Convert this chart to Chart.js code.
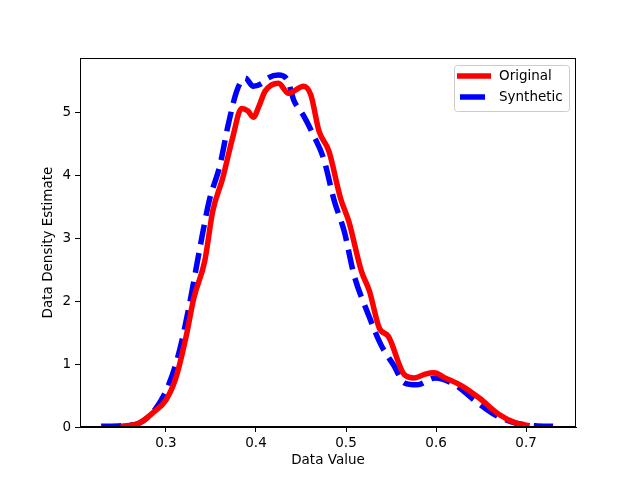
<!DOCTYPE html>
<html><head><meta charset="utf-8">
<script src="https://cdn.jsdelivr.net/npm/chart.js@4.4.0/dist/chart.umd.min.js"></script>
<style>html,body{margin:0;padding:0;background:#fff}#w{width:640px;height:480px}</style>
</head><body><div id="w"><canvas id="c" width="640" height="480"></canvas></div>
<script>
const originalX = [0.25,0.27,0.285,0.30,0.311,0.322,0.331,0.343,0.352,0.363,0.374,0.384,0.391,0.397,0.404,0.410,0.425,0.436,0.453,0.461,0.470,0.481,0.494,0.503,0.517,0.526,0.537,0.547,0.565,0.576,0.588,0.598,0.610,0.629,0.648,0.671,0.689,0.704];
const originalY = [0.01,0.06,0.22,0.43,0.78,1.41,2.05,2.63,3.43,3.95,4.59,5.06,5.02,4.92,5.12,5.33,5.46,5.30,5.41,5.27,4.70,4.38,3.63,3.27,2.48,2.16,1.57,1.44,0.83,0.78,0.84,0.86,0.78,0.65,0.46,0.19,0.06,0.02];
const syntheticX = [0.228,0.25,0.27,0.289,0.303,0.315,0.326,0.337,0.348,0.36,0.369,0.379,0.388,0.397,0.407,0.413,0.425,0.435,0.442,0.453,0.464,0.475,0.487,0.498,0.509,0.525,0.539,0.553,0.565,0.579,0.599,0.621,0.644,0.666,0.689,0.710,0.730];
const syntheticY = [0.01,0.02,0.06,0.30,0.67,1.21,1.94,2.79,3.59,4.16,4.79,5.35,5.54,5.41,5.46,5.54,5.59,5.51,5.19,4.94,4.63,4.27,3.59,3.11,2.41,1.78,1.30,0.98,0.70,0.67,0.78,0.67,0.41,0.19,0.06,0.02,0.01];
const seriesNames = ["Original","Synthetic"];
const xTicks = [0.3,0.4,0.5,0.6,0.7];
const yTicks = [0,1,2,3,4,5];

const toPts = (xs, ys) => xs.map((x,i)=>({x:x,y:ys[i]}));
const FONT = "'DejaVu Sans', sans-serif";

const framePlugin = {
  id:'frame',
  afterDraw(chart){
    const {ctx, chartArea:a} = chart;
    ctx.save();
    ctx.strokeStyle='#000'; ctx.lineWidth=1;
    ctx.strokeRect(Math.round(a.left)+0.5, Math.round(a.top)+0.5, Math.round(a.right-a.left)-1, Math.round(a.bottom-a.top)-1);
    // legend
    const bx=454, by=65, bw=115, bh=46;
    ctx.fillStyle='rgba(255,255,255,0.8)';
    ctx.strokeStyle='#cccccc';
    ctx.beginPath();
    ctx.roundRect(bx+0.5,by+0.5,bw,bh,3);
    ctx.fill(); ctx.stroke();
    ctx.lineWidth=5.5;
    ctx.strokeStyle='#ff0000';
    ctx.beginPath(); ctx.moveTo(457,76); ctx.lineTo(491,76); ctx.stroke();
    ctx.strokeStyle='#0000ff';
    ctx.beginPath(); ctx.moveTo(460,97); ctx.lineTo(485,97); ctx.stroke();
    ctx.fillStyle='#000';
    ctx.font='13.5px '+FONT;
    ctx.textBaseline='middle';
    ctx.fillText(seriesNames[0],499,76);
    ctx.fillText(seriesNames[1],499,97);
    ctx.restore();
  }
};

new Chart(document.getElementById('c'),{
  type:'scatter',
  data:{datasets:[
    {label:seriesNames[0],data:toPts(originalX,originalY),showLine:true,borderColor:'#ff0000',backgroundColor:'#ff0000',borderWidth:5.5,pointRadius:0,cubicInterpolationMode:'monotone',borderCapStyle:'butt',borderJoinStyle:'round'},
    {label:seriesNames[1],data:toPts(syntheticX,syntheticY),showLine:true,borderColor:'#0000ff',backgroundColor:'#0000ff',borderWidth:5.5,borderDash:[20,9],pointRadius:0,cubicInterpolationMode:'monotone',borderCapStyle:'butt',borderJoinStyle:'round'}
  ]},
  options:{
    responsive:false, animation:false, devicePixelRatio:1,
    layout:{padding:{left:40,top:58,right:64,bottom:11}},
    plugins:{legend:{display:false},tooltip:{enabled:false}},
    scales:{
      x:{type:'linear',min:0.2045,max:0.7555,
        afterBuildTicks(s){s.ticks=xTicks.map(v=>({value:v}));},
        afterFit(s){s.height=42;},
        ticks:{color:'#000',font:{family:FONT,size:13.5},padding:3,maxRotation:0,callback:v=>v.toFixed(1)},
        grid:{display:true,drawOnChartArea:false,drawTicks:true,tickLength:5,color:'#000'},
        border:{display:true,color:'#000'},
        title:{display:true,text:'Data Value',color:'#000',font:{family:FONT,size:13.5},padding:{top:2,bottom:0}}
      },
      y:{type:'linear',min:0,max:5.86,
        afterBuildTicks(s){s.ticks=yTicks.map(v=>({value:v}));},
        afterFit(s){s.width=40;},
        ticks:{color:'#000',font:{family:FONT,size:13.5},padding:4,callback:v=>String(v)},
        grid:{display:true,drawOnChartArea:false,drawTicks:true,tickLength:5,color:'#000'},
        border:{display:true,color:'#000'},
        title:{display:true,text:'Data Density Estimate',color:'#000',font:{family:FONT,size:13.5},padding:{top:0,bottom:6}}
      }
    }
  },
  plugins:[framePlugin]
});
</script></body></html>
